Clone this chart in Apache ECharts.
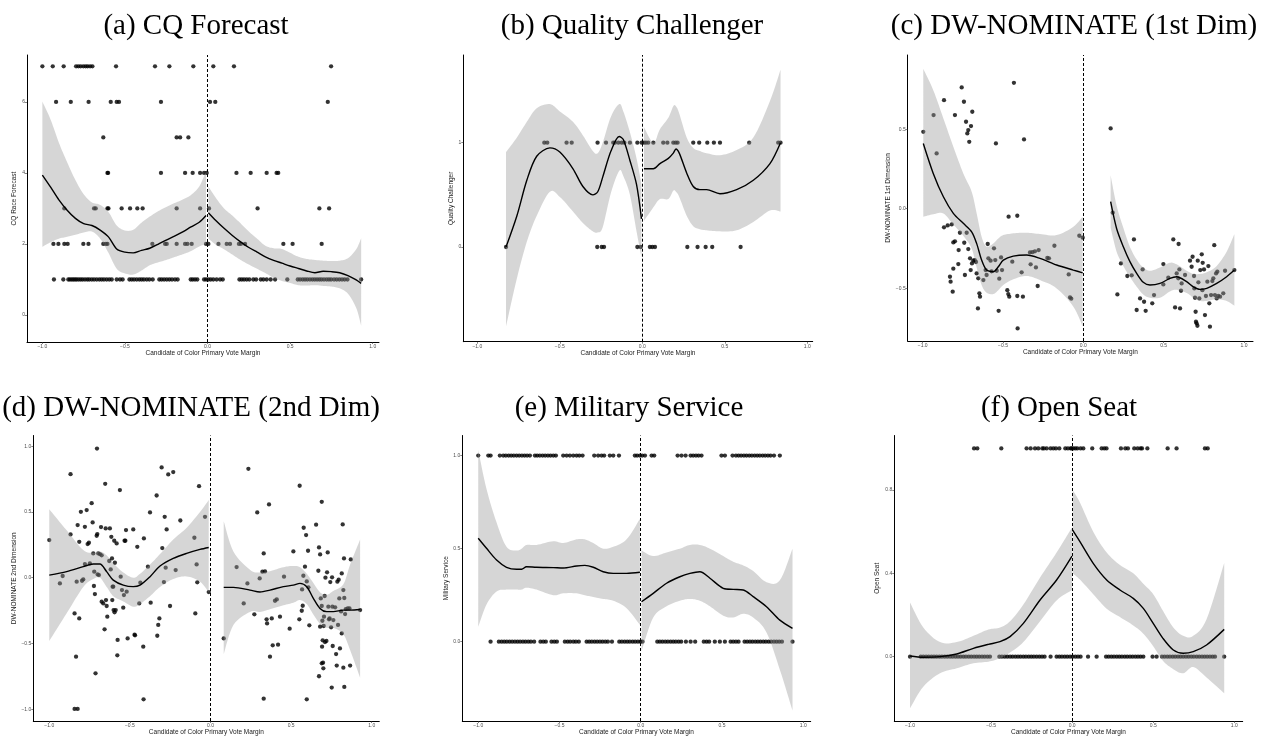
<!DOCTYPE html>
<html><head><meta charset="utf-8">
<script src="https://cdn.jsdelivr.net/npm/echarts@6/dist/echarts.min.js"></script>
<style>html,body{margin:0;padding:0;background:#fff}#c{width:1263px;height:741px}</style>
</head><body><div id="c"></div>
<script>
// ---------- DATA ----------
const xTicks = [-1, -0.5, 0, 0.5, 1];
const xName = 'Candidate of Color Primary Vote Margin';
const titles = ['(a) CQ Forecast', '(b) Quality Challenger', '(c) DW-NOMINATE (1st Dim)', '(d) DW-NOMINATE (2nd Dim)', '(e) Military Service', '(f) Open Seat'];
const yNames = ['CQ Race Forecast', 'Quality Challenger', 'DW-NOMINATE 1st Dimension', 'DW-NOMINATE 2nd Dimension', 'Military Service', 'Open Seat'];
const yTicksA = [0, 2, 4, 6], yTicksB = [0, 1], yTicksC = [-0.5, 0, 0.5], yTicksD = [-1, -0.5, 0, 0.5, 1], yTicksE = [0, 0.5, 1], yTicksF = [0, 0.4, 0.8];

// (a) CQ forecast: x values at each forecast level
const cqX7 = [-1.0,-0.937,-0.871,-0.796,-0.782,-0.768,-0.752,-0.738,-0.726,-0.711,-0.697,-0.554,-0.318,-0.231,-0.086,0.035,0.16,0.748];
const cqX6 = [-0.917,-0.828,-0.72,-0.586,-0.55,-0.536,-0.282,0.015,0.047,0.728];
const cqX5 = [-0.631,-0.187,-0.166,-0.116];
const cqX4 = [-0.606,-0.602,-0.282,-0.136,-0.09,-0.045,-0.021,-0.005,0.175,0.261,0.358,0.418,0.428];
const cqX3 = [-0.867,-0.687,-0.677,-0.606,-0.6,-0.52,-0.469,-0.425,-0.393,-0.187,-0.045,0.009,0.303,0.677,0.736];
const cqX2 = [-0.933,-0.903,-0.867,-0.847,-0.752,-0.721,-0.631,-0.615,-0.606,-0.334,-0.257,-0.247,-0.187,-0.136,-0.122,-0.096,-0.009,0.005,0.066,0.116,0.136,0.19,0.202,0.227,0.459,0.515,0.691];
const cqX1 = [-0.93,-0.873,-0.843,-0.833,-0.822,-0.812,-0.802,-0.792,-0.78,-0.768,-0.756,-0.742,-0.728,-0.716,-0.701,-0.687,-0.671,-0.655,-0.641,-0.627,-0.611,-0.595,-0.58,-0.55,-0.53,-0.514,-0.473,-0.459,-0.445,-0.429,-0.413,-0.399,-0.385,-0.368,-0.352,-0.332,-0.292,-0.278,-0.263,-0.247,-0.231,-0.215,-0.197,-0.181,-0.102,-0.09,-0.076,-0.062,-0.021,-0.009,0.005,0.019,0.035,0.055,0.076,0.092,0.193,0.207,0.221,0.237,0.253,0.277,0.294,0.322,0.338,0.358,0.382,0.409,0.483,0.546,0.56,0.576,0.59,0.604,0.62,0.635,0.649,0.663,0.677,0.69,0.705,0.721,0.735,0.748,0.766,0.782,0.798,0.814,0.83,0.847,0.93];
const aLX = [-1,-0.95,-0.9,-0.85,-0.8,-0.75,-0.7,-0.65,-0.6,-0.55,-0.5,-0.45,-0.4,-0.35,-0.3,-0.25,-0.2,-0.15,-0.1,-0.05,-0.009];
const aLFit = [3.94,3.6,3.24,2.95,2.72,2.57,2.52,2.39,2.2,1.86,1.77,1.75,1.82,1.88,1.99,2.11,2.22,2.34,2.48,2.61,2.8];
const aLHi = [6.01,5.5,4.85,4.3,3.8,3.4,3.17,3.1,2.9,2.52,2.38,2.4,2.6,2.77,2.92,3.04,3.15,3.25,3.38,3.62,4.05];
const aLLo = [1.92,2.05,2.15,2.2,2.26,2.32,2.35,2.15,1.75,1.3,1.17,1.14,1.25,1.4,1.48,1.55,1.63,1.71,1.8,1.93,2.0];
const aRX = [0.005,0.05,0.1,0.15,0.2,0.25,0.3,0.35,0.4,0.45,0.5,0.55,0.6,0.65,0.7,0.75,0.8,0.85,0.9,0.93];
const aRFit = [2.88,2.66,2.44,2.24,2.06,1.9,1.77,1.64,1.54,1.46,1.38,1.31,1.24,1.19,1.23,1.22,1.19,1.11,0.99,0.89];
const aRHi = [3.62,3.3,3.0,2.8,2.58,2.35,2.15,1.95,1.88,1.86,1.75,1.64,1.58,1.55,1.53,1.52,1.53,1.6,1.85,2.16];
const aRLo = [2.15,1.98,1.85,1.7,1.55,1.42,1.3,1.18,1.05,0.96,0.9,0.84,0.83,0.84,0.82,0.8,0.75,0.6,0.2,-0.3];

// (b) Quality challenger
const qcX1 = [-0.594,-0.576,-0.459,-0.428,-0.271,-0.22,-0.176,-0.166,-0.145,-0.125,-0.109,-0.075,-0.03,-0.004,0.01,0.022,0.036,0.067,0.127,0.152,0.188,0.202,0.214,0.309,0.345,0.394,0.434,0.471,0.648,0.824,0.838];
const qcX0 = [-0.826,-0.273,-0.246,-0.232,-0.03,-0.01,0.046,0.061,0.077,0.273,0.335,0.384,0.424,0.596];
const bLX = [-0.826,-0.76,-0.7,-0.64,-0.56,-0.5,-0.42,-0.36,-0.3,-0.27,-0.24,-0.19,-0.14,-0.115,-0.075,-0.035,-0.005];
const bLFit = [0.0,0.3,0.64,0.87,0.95,0.91,0.75,0.58,0.5,0.53,0.67,0.92,1.06,1.03,0.83,0.6,0.27];
const bLHi = [0.91,1.05,1.2,1.33,1.37,1.3,1.2,1.07,0.92,0.9,1.0,1.25,1.37,1.3,1.1,0.85,0.6];
const bLLo = [-0.76,-0.3,0.05,0.3,0.53,0.48,0.34,0.23,0.15,0.14,0.19,0.52,0.73,0.68,0.5,0.15,-0.1];
const bRX = [0.01,0.067,0.107,0.158,0.188,0.204,0.224,0.269,0.309,0.349,0.39,0.471,0.572,0.673,0.774,0.838];
const bRFit = [0.75,0.75,0.8,0.85,0.9,0.94,0.9,0.71,0.58,0.55,0.55,0.51,0.55,0.64,0.8,1.0];
const bRHi = [1.15,1.0,1.13,1.24,1.35,1.35,1.28,1.05,0.95,0.92,0.9,0.88,0.93,1.05,1.4,1.7];
const bRLo = [0.25,0.38,0.46,0.46,0.54,0.53,0.48,0.3,0.2,0.17,0.16,0.15,0.16,0.24,0.35,0.34];

// (c) DW-NOMINATE 1st dimension: [margin, score]
const dw1Pts = [[-0.996,0.484],[-0.932,0.589],[-0.913,0.348],[-0.867,0.683],[-0.799,0.589],[-0.757,0.763],[-0.743,0.673],[-0.73,0.547],[-0.722,0.474],[-0.716,0.495],[-0.71,0.421],[-0.699,0.52],[-0.691,0.61],[-0.544,0.411],[-0.432,0.792],[-0.369,0.436],
[-0.867,-0.117],[-0.844,-0.105],[-0.819,-0.099],[-0.809,-0.212],[-0.799,-0.205],[-0.776,-0.26],[-0.83,-0.428],[-0.826,-0.459],[-0.813,-0.522],[-0.809,-0.377],[-0.778,-0.348],[-0.768,-0.151],[-0.741,-0.214],[-0.737,-0.417],[-0.726,-0.151],[-0.716,-0.254],[-0.705,-0.312],[-0.701,-0.386],[-0.693,-0.344],[-0.685,-0.327],[-0.676,-0.323],[-0.668,-0.335],[-0.664,-0.407],[-0.654,-0.438],[-0.647,-0.532],[-0.643,-0.553],[-0.656,-0.627],[-0.622,-0.449],[-0.608,-0.386],[-0.602,-0.417],[-0.595,-0.222],[-0.591,-0.312],[-0.577,-0.327],[-0.571,-0.394],[-0.556,-0.249],[-0.548,-0.323],[-0.539,-0.39],[-0.523,-0.44],[-0.512,-0.306],[-0.506,-0.386],[-0.527,-0.642],[-0.465,-0.05],[-0.411,-0.044],[-0.473,-0.512],[-0.467,-0.537],[-0.461,-0.553],[-0.442,-0.333],[-0.384,-0.4],[-0.376,-0.553],[-0.409,-0.753],[-0.411,-0.549],[-0.332,-0.275],[-0.317,-0.273],[-0.301,-0.268],[-0.278,-0.26],[-0.328,-0.35],[-0.295,-0.369],[-0.284,-0.486],[-0.224,-0.31],[-0.214,-0.312],[-0.18,-0.233],[-0.091,-0.413],[-0.083,-0.558],[-0.075,-0.566],[-0.025,-0.17],[-0.004,-0.182],
[0.17,0.505],[0.183,-0.025],[0.234,-0.344],[0.212,-0.539],[0.315,-0.193],[0.274,-0.423],[0.301,-0.419],[0.332,-0.637],[0.353,-0.564],[0.369,-0.382],[0.378,-0.585],[0.388,-0.642],[0.429,-0.595],[0.44,-0.543],[0.498,-0.348],[0.498,-0.476],[0.529,-0.434],[0.56,-0.193],[0.571,-0.621],[0.581,-0.407],[0.591,-0.438],[0.593,-0.222],[0.598,-0.382],[0.602,-0.627],[0.608,-0.516],[0.612,-0.47],[0.633,-0.417],[0.664,-0.327],[0.674,-0.365],[0.68,-0.302],[0.689,-0.423],[0.691,-0.501],[0.695,-0.56],[0.699,-0.648],[0.701,-0.711],[0.71,-0.736],[0.705,-0.721],[0.712,-0.327],[0.716,-0.463],[0.722,-0.564],[0.728,-0.386],[0.737,-0.287],[0.741,-0.512],[0.743,-0.34],[0.751,-0.382],[0.757,-0.669],[0.763,-0.549],[0.772,-0.459],[0.778,-0.361],[0.784,-0.595],[0.788,-0.742],[0.795,-0.543],[0.803,-0.455],[0.809,-0.438],[0.815,-0.229],[0.819,-0.543],[0.826,-0.407],[0.83,-0.564],[0.834,-0.396],[0.84,-0.549],[0.851,-0.553],[0.871,-0.532],[0.882,-0.39],[0.94,-0.386]];
const cLX = [-0.996,-0.934,-0.871,-0.809,-0.747,-0.695,-0.664,-0.633,-0.602,-0.56,-0.529,-0.498,-0.436,-0.353,-0.27,-0.166,-0.062,-0.004];
const cLFit = [0.41,0.222,0.075,-0.029,-0.092,-0.145,-0.218,-0.323,-0.386,-0.396,-0.365,-0.323,-0.298,-0.291,-0.312,-0.354,-0.386,-0.403];
const cLHi = [0.88,0.746,0.568,0.39,0.222,0.107,-0.029,-0.176,-0.239,-0.218,-0.187,-0.166,-0.155,-0.151,-0.159,-0.166,-0.113,-0.05];
const cLLo = [-0.05,-0.035,-0.03,-0.1,-0.17,-0.25,-0.37,-0.48,-0.528,-0.537,-0.512,-0.48,-0.444,-0.423,-0.449,-0.501,-0.616,-0.742];
const cRX = [0.17,0.207,0.249,0.29,0.332,0.373,0.415,0.477,0.539,0.581,0.643,0.685,0.726,0.768,0.83,0.892,0.94];
const cRFit = [0.044,-0.124,-0.239,-0.333,-0.407,-0.463,-0.48,-0.47,-0.438,-0.428,-0.459,-0.491,-0.507,-0.501,-0.47,-0.428,-0.386];
const cRHi = [0.21,0.02,-0.12,-0.24,-0.32,-0.37,-0.39,-0.37,-0.34,-0.35,-0.39,-0.41,-0.41,-0.4,-0.36,-0.27,-0.16];
const cRLo = [-0.12,-0.27,-0.36,-0.43,-0.49,-0.54,-0.56,-0.56,-0.52,-0.51,-0.53,-0.56,-0.58,-0.58,-0.57,-0.58,-0.61];

// (d) DW-NOMINATE 2nd dimension: [margin, score]
const dw2Pts = [[-1.0,0.286],[-0.934,-0.043],[-0.917,0.013],[-0.868,0.787],[-0.868,0.329],[-0.843,-0.271],[-0.834,-0.6],[-0.83,-0.03],[-0.824,0.4],[-0.814,0.273],[-0.814,-0.309],[-0.804,0.501],[-0.797,-0.023],[-0.789,-0.013],[-0.779,0.387],[-0.779,0.104],[-0.768,0.514],[-0.762,0.256],[-0.754,0.266],[-0.748,0.109],[-0.737,0.567],[-0.731,0.42],[-0.727,0.185],[-0.723,-0.063],[-0.721,0.046],[-0.717,-0.124],[-0.713,-0.727],[-0.706,0.319],[-0.704,0.982],[-0.702,0.332],[-0.7,0.025],[-0.696,0.185],[-0.692,0.02],[-0.686,0.18],[-0.679,0.385],[-0.675,0.17],[-0.675,-0.182],[-0.665,-0.195],[-0.657,-0.392],[-0.653,0.714],[-0.65,0.375],[-0.648,-0.17],[-0.644,-0.215],[-0.64,-0.296],[-0.628,0.127],[-0.624,0.375],[-0.619,0.063],[-0.615,0.311],[-0.611,0.147],[-0.609,-0.17],[-0.607,-0.068],[-0.603,-0.068],[-0.601,-0.246],[-0.597,0.281],[-0.595,-0.263],[-0.593,0.114],[-0.588,-0.246],[-0.582,0.261],[-0.578,-0.59],[-0.576,-0.473],[-0.562,0.666],[-0.557,0.008],[-0.549,-0.094],[-0.541,-0.228],[-0.537,-0.132],[-0.533,0.281],[-0.528,0.281],[-0.524,0.362],[-0.52,-0.106],[-0.514,-0.461],[-0.479,0.367],[-0.471,-0.433],[-0.468,-0.438],[-0.454,0.235],[-0.442,-0.195],[-0.435,-0.038],[-0.417,-0.524],[-0.415,-0.924],[-0.413,0.299],[-0.388,0.084],[-0.375,0.496],[-0.371,-0.19],[-0.334,0.625],[-0.33,-0.441],[-0.324,-0.359],[-0.317,-0.309],[-0.303,0.838],[-0.299,0.225],[-0.289,-0.033],[-0.284,0.463],[-0.278,0.076],[-0.272,0.367],[-0.262,0.785],[-0.251,-0.215],[-0.231,0.803],[-0.216,0.058],[-0.187,0.435],[-0.1,0.304],[-0.094,-0.271],[-0.086,0.101],[-0.082,-0.035],[-0.071,0.696],[-0.034,0.463],[-0.011,-0.109],[-0.843,-0.997],[-0.824,-0.997],
[0.082,-0.461],[0.162,0.081],[0.206,-0.195],[0.229,-0.043],[0.235,0.828],[0.272,-0.278],[0.29,0.496],[0.305,-0.005],[0.322,0.046],[0.33,0.185],[0.33,-0.919],[0.338,0.048],[0.348,-0.316],[0.351,-0.347],[0.363,0.557],[0.369,-0.6],[0.38,-0.309],[0.386,-0.514],[0.4,-0.175],[0.411,-0.165],[0.419,-0.509],[0.431,-0.296],[0.456,0.008],[0.491,-0.387],[0.514,0.2],[0.551,-0.316],[0.553,0.699],[0.566,-0.251],[0.568,-0.089],[0.572,-0.213],[0.576,0.015],[0.578,0.38],[0.586,0.084],[0.593,0.324],[0.597,-0.028],[0.597,-0.924],[0.605,0.205],[0.607,-0.073],[0.613,-0.362],[0.655,0.403],[0.669,0.053],[0.673,0.23],[0.68,0.177],[0.673,-0.749],[0.68,-0.372],[0.684,-0.157],[0.69,-0.215],[0.69,0.577],[0.692,-0.524],[0.694,-0.327],[0.696,-0.476],[0.69,-0.651],[0.698,-0.646],[0.7,-0.689],[0.702,-0.367],[0.704,-0.296],[0.708,-0.139],[0.71,-0.489],[0.713,0.0],[0.719,-0.481],[0.723,0.041],[0.727,0.192],[0.731,-0.22],[0.735,-0.316],[0.739,-0.309],[0.743,-0.033],[0.748,-0.377],[0.752,-0.835],[0.754,0.003],[0.756,-0.22],[0.758,-0.519],[0.762,-0.322],[0.773,-0.225],[0.779,-0.58],[0.783,-0.668],[0.787,-0.03],[0.791,-0.359],[0.795,-0.015],[0.799,-0.157],[0.803,-0.537],[0.81,-0.256],[0.814,-0.423],[0.814,0.033],[0.82,0.405],[0.824,-0.684],[0.824,-0.094],[0.828,0.147],[0.83,-0.83],[0.83,-0.154],[0.835,-0.276],[0.839,-0.238],[0.851,-0.233],[0.862,-0.233],[0.866,-0.668],[0.87,0.139],[0.928,-0.246]];
const dLX = [-1.0,-0.892,-0.789,-0.727,-0.686,-0.644,-0.603,-0.541,-0.479,-0.437,-0.375,-0.313,-0.231,-0.148,-0.065,-0.011];
const dLFit = [0.02,0.046,0.084,0.104,0.104,0.046,-0.018,-0.056,-0.068,-0.056,0.008,0.089,0.147,0.185,0.215,0.23];
const dLHi = [0.52,0.36,0.21,0.19,0.2,0.17,0.11,0.04,0.0,0.03,0.1,0.18,0.29,0.38,0.5,0.59];
const dLLo = [-0.48,-0.27,-0.07,-0.01,0.0,-0.07,-0.14,-0.18,-0.22,-0.2,-0.14,-0.07,-0.01,0.01,-0.03,-0.11];
const dRX = [0.082,0.142,0.245,0.307,0.369,0.452,0.514,0.555,0.597,0.638,0.679,0.721,0.762,0.824,0.866,0.928];
const dRFit = [-0.073,-0.073,-0.094,-0.109,-0.094,-0.068,-0.056,-0.043,-0.068,-0.157,-0.233,-0.258,-0.258,-0.246,-0.246,-0.241];
const dRHi = [0.43,0.2,0.06,0.04,0.05,0.08,0.09,0.08,0.03,-0.04,-0.11,-0.13,-0.1,-0.05,0.1,0.29];
const dRLo = [-0.58,-0.36,-0.26,-0.26,-0.24,-0.21,-0.19,-0.17,-0.2,-0.28,-0.35,-0.38,-0.38,-0.43,-0.55,-0.76];

// (e) Military service
const msX1 = [-1.0,-0.938,-0.924,-0.867,-0.846,-0.83,-0.813,-0.797,-0.781,-0.764,-0.748,-0.731,-0.715,-0.699,-0.682,-0.651,-0.637,-0.621,-0.604,-0.588,-0.571,-0.555,-0.538,-0.522,-0.477,-0.456,-0.436,-0.415,-0.395,-0.378,-0.358,-0.286,-0.262,-0.241,-0.225,-0.19,-0.169,-0.134,-0.036,-0.022,-0.005,0.009,0.026,0.067,0.083,0.227,0.251,0.276,0.307,0.323,0.34,0.356,0.374,0.497,0.518,0.565,0.586,0.602,0.618,0.635,0.651,0.668,0.684,0.701,0.717,0.733,0.75,0.766,0.783,0.799,0.82,0.856];
const msX0 = [-0.924,-0.873,-0.856,-0.84,-0.824,-0.807,-0.791,-0.774,-0.758,-0.742,-0.725,-0.709,-0.692,-0.676,-0.656,-0.617,-0.6,-0.584,-0.549,-0.532,-0.516,-0.467,-0.45,-0.434,-0.415,-0.399,-0.381,-0.333,-0.317,-0.301,-0.284,-0.268,-0.251,-0.235,-0.218,-0.202,-0.177,-0.132,-0.116,-0.099,-0.083,-0.067,-0.05,-0.034,-0.017,-0.001,0.011,0.102,0.118,0.134,0.151,0.167,0.184,0.2,0.216,0.233,0.249,0.278,0.307,0.335,0.388,0.405,0.421,0.456,0.487,0.518,0.553,0.569,0.586,0.602,0.639,0.655,0.672,0.688,0.705,0.721,0.737,0.754,0.77,0.787,0.803,0.82,0.836,0.852,0.869,0.934];
const eLX = [-1.0,-0.949,-0.887,-0.826,-0.764,-0.733,-0.703,-0.641,-0.538,-0.477,-0.395,-0.344,-0.292,-0.231,-0.169,-0.087,-0.005];
const eLFit = [0.556,0.502,0.439,0.4,0.389,0.389,0.403,0.4,0.398,0.396,0.407,0.41,0.4,0.376,0.367,0.367,0.373];
const eLHi = [1.03,0.82,0.64,0.51,0.49,0.5,0.52,0.52,0.54,0.53,0.55,0.55,0.53,0.5,0.51,0.55,0.66];
const eLLo = [0.08,0.2,0.27,0.28,0.28,0.28,0.29,0.28,0.25,0.26,0.26,0.25,0.24,0.23,0.22,0.18,0.09];
const eRX = [0.005,0.077,0.159,0.241,0.303,0.364,0.426,0.508,0.569,0.631,0.692,0.774,0.856,0.934];
const eRFit = [0.215,0.26,0.314,0.349,0.367,0.376,0.341,0.287,0.281,0.278,0.242,0.188,0.116,0.072];
const eRHi = [0.49,0.46,0.48,0.5,0.52,0.52,0.5,0.46,0.43,0.41,0.38,0.32,0.33,0.5];
const eRLo = [-0.05,0.13,0.19,0.22,0.23,0.22,0.19,0.14,0.13,0.15,0.13,0.05,-0.15,-0.37];

// (f) Open seat
const osX1 = [-0.605,-0.585,-0.437,-0.281,-0.256,-0.229,-0.209,-0.184,-0.174,-0.157,-0.133,-0.116,-0.1,-0.079,-0.042,-0.026,-0.009,-0.003,0.007,0.02,0.032,0.052,0.069,0.124,0.182,0.198,0.212,0.301,0.328,0.344,0.383,0.404,0.422,0.431,0.464,0.589,0.644,0.819,0.836];
const osX0 = [-1.0,-0.934,-0.918,-0.901,-0.885,-0.868,-0.852,-0.836,-0.819,-0.803,-0.786,-0.77,-0.753,-0.737,-0.72,-0.704,-0.688,-0.671,-0.655,-0.638,-0.622,-0.605,-0.589,-0.573,-0.556,-0.54,-0.523,-0.507,-0.449,-0.433,-0.416,-0.4,-0.383,-0.367,-0.35,-0.334,-0.318,-0.301,-0.285,-0.268,-0.252,-0.236,-0.219,-0.202,-0.186,-0.17,-0.133,-0.096,-0.079,-0.063,-0.046,-0.03,-0.013,0.003,0.02,0.036,0.052,0.098,0.151,0.209,0.225,0.242,0.258,0.275,0.291,0.307,0.324,0.34,0.357,0.373,0.39,0.406,0.422,0.439,0.496,0.521,0.554,0.57,0.587,0.603,0.62,0.636,0.653,0.669,0.685,0.702,0.718,0.735,0.751,0.768,0.784,0.801,0.817,0.833,0.85,0.866,0.881,0.938];
const fLX = [-1.0,-0.918,-0.815,-0.712,-0.609,-0.517,-0.445,-0.383,-0.301,-0.198,-0.096,-0.001];
const fLFit = [0.003,-0.003,0.0,0.013,0.04,0.059,0.072,0.096,0.16,0.272,0.368,0.483];
const fLHi = [0.26,0.14,0.07,0.07,0.1,0.13,0.14,0.17,0.25,0.38,0.5,0.62];
const fLLo = [-0.248,-0.144,-0.08,-0.056,-0.032,-0.024,-0.008,0.02,0.07,0.17,0.27,0.32];
const fRX = [0.003,0.048,0.13,0.213,0.295,0.377,0.439,0.5,0.56,0.624,0.685,0.747,0.829,0.938];
const fRFit = [0.608,0.552,0.448,0.368,0.32,0.28,0.232,0.16,0.088,0.032,0.016,0.024,0.056,0.131];
const fRHi = [0.8,0.74,0.6,0.5,0.44,0.4,0.35,0.3,0.22,0.14,0.1,0.1,0.18,0.45];
const fRLo = [0.4,0.37,0.3,0.23,0.19,0.15,0.11,0.05,-0.02,-0.06,-0.08,-0.05,-0.1,-0.176];

// ---------- LAYOUT ----------
const layout = [
  {left:27,    top:55,    width:352,   height:287,   xMin:-1.093, xMax:1.038, yMin:-0.76,  yMax:7.32,  yGap:9,    dec:0, tx:196,  ty:26},
  {left:463.3, top:55,    width:349.4, height:286.7, xMin:-1.085, xMax:1.033, yMin:-0.908, yMax:1.841, yGap:8,    dec:0, tx:632,  ty:26},
  {left:907.7, top:55,    width:345.3, height:286,   xMin:-1.093, xMax:1.056, yMin:-0.832, yMax:0.967, yGap:15.5, dec:1, tx:1074, ty:26},
  {left:33.3,  top:435.5, width:346,   height:285.5, xMin:-1.099, xMax:1.047, yMin:-1.089, yMax:1.081, yGap:15,   dec:1, tx:191,  ty:408},
  {left:462.3, top:435.5, width:348.4, height:285.5, xMin:-1.098, xMax:1.046, yMin:-0.426, yMax:1.108, yGap:13,   dec:1, tx:629,  ty:408},
  {left:894.3, top:435.5, width:348.4, height:285.5, xMin:-1.097, xMax:1.052, yMin:-0.309, yMax:1.062, yGap:14,   dec:1, tx:1059, ty:408}
];

const yTicks = [yTicksA, yTicksB, yTicksC, yTicksD, yTicksE, yTicksF];
const lvl = (xs, y) => xs.map(x => [x, y]);
const points = [
  [].concat(lvl(cqX7,7), lvl(cqX6,6), lvl(cqX5,5), lvl(cqX4,4), lvl(cqX3,3), lvl(cqX2,2), lvl(cqX1,1)),
  [].concat(lvl(qcX1,1), lvl(qcX0,0)),
  dw1Pts,
  dw2Pts,
  [].concat(lvl(msX1,1), lvl(msX0,0)),
  [].concat(lvl(osX1,1), lvl(osX0,0))
];
const fits = [
  [[aLX,aLFit,aLLo,aLHi],[aRX,aRFit,aRLo,aRHi]],
  [[bLX,bLFit,bLLo,bLHi],[bRX,bRFit,bRLo,bRHi]],
  [[cLX,cLFit,cLLo,cLHi],[cRX,cRFit,cRLo,cRHi]],
  [[dLX,dLFit,dLLo,dLHi],[dRX,dRFit,dRLo,dRHi]],
  [[eLX,eLFit,eLLo,eLHi],[eRX,eRFit,eRLo,eRHi]],
  [[fLX,fLFit,fLLo,fLHi],[fRX,fRFit,fRLo,fRHi]]
];

const fmt = dec => v => (v < 0 ? '\u2212' : '') + Math.abs(v).toFixed(dec);
const sans = 'Liberation Sans, Arial, sans-serif';

// Catmull-Rom smoothing of screen points (rendering only)
function smoothPts(p) {
  const out = [];
  for (let i = 0; i < p.length - 1; i++) {
    const p0 = p[Math.max(i-1,0)], p1 = p[i], p2 = p[i+1], p3 = p[Math.min(i+2,p.length-1)];
    for (let t = 0; t < 1; t += 0.125) {
      const t2 = t*t, t3 = t2*t;
      out.push([0,1].map(k => 0.5*((2*p1[k]) + (-p0[k]+p2[k])*t + (2*p0[k]-5*p1[k]+4*p2[k]-p3[k])*t2 + (-p0[k]+3*p1[k]-3*p2[k]+p3[k])*t3)));
    }
  }
  out.push(p[p.length-1]);
  return out;
}

const grid = [], xAxis = [], yAxis = [], series = [], graphic = [];
layout.forEach((L, i) => {
  grid.push({left:L.left, top:L.top, width:L.width, height:L.height, containLabel:false});
  xAxis.push({
    type:'value', gridIndex:i, min:L.xMin, max:L.xMax,
    axisLine:{show:true, onZero:false, lineStyle:{color:'#000', width:1}},
    axisTick:{show:true, length:2, customValues:xTicks, lineStyle:{color:'#333', width:0.6}},
    axisLabel:{show:true, customValues:xTicks, formatter:fmt(1), fontSize:5, color:'#4d4d4d', margin:2, fontFamily:sans},
    splitLine:{show:false},
    name:xName, nameLocation:'middle', nameGap:8,
    nameTextStyle:{fontSize:6.5, color:'#1a1a1a', fontFamily:sans}
  });
  yAxis.push({
    type:'value', gridIndex:i, min:L.yMin, max:L.yMax,
    axisLine:{show:true, onZero:false, lineStyle:{color:'#000', width:1}},
    axisTick:{show:true, length:2, customValues:yTicks[i], lineStyle:{color:'#333', width:0.6}},
    axisLabel:{show:true, customValues:yTicks[i], formatter:fmt(L.dec), fontSize:5, color:'#4d4d4d', margin:2, fontFamily:sans},
    splitLine:{show:false},
    name:yNames[i], nameLocation:'middle', nameGap:L.yGap, nameRotate:90,
    nameTextStyle:{fontSize:6.5, color:'#1a1a1a', fontFamily:sans}
  });
  series.push({
    type:'scatter', xAxisIndex:i, yAxisIndex:i, data:points[i], symbolSize:4.3,
    itemStyle:{color:'#000'}, z:2, silent:true,
    markLine:{silent:true, symbol:['none','none'], label:{show:false},
      lineStyle:{color:'#000', type:[3,2], width:1}, data:[{xAxis:0}]}
  });
  fits[i].forEach(([X, F, LO, HI]) => {
    series.push({
      type:'custom', xAxisIndex:i, yAxisIndex:i, z:3, silent:true,
      data: X.map((x,k) => [x, LO[k], HI[k]]),
      encode:{x:0, y:[1,2]},
      renderItem:(params, api) => {
        if (params.dataIndex !== 0) return null;
        const top = smoothPts(X.map((x,k) => api.coord([x, HI[k]])));
        const bot = smoothPts(X.map((x,k) => api.coord([x, LO[k]]))).reverse();
        return {type:'polygon', shape:{points: top.concat(bot)}, style:{fill:'rgba(153,153,153,0.4)'}};
      }
    });
    series.push({
      type:'line', xAxisIndex:i, yAxisIndex:i, z:4, silent:true,
      data: X.map((x,k) => [x, F[k]]), showSymbol:false, smooth:0.3,
      lineStyle:{color:'#000', width:1.4}
    });
  });
  graphic.push({type:'text', x:L.tx, y:L.ty, style:{text:titles[i], textAlign:'center', textVerticalAlign:'middle',
    font:'29px "Liberation Serif", "Times New Roman", serif', fill:'#000'}});
});

const chart = echarts.init(document.getElementById('c'), null, {renderer:'canvas'});
chart.setOption({animation:false, backgroundColor:'#fff', grid, xAxis, yAxis, series, graphic});
</script></body></html>
